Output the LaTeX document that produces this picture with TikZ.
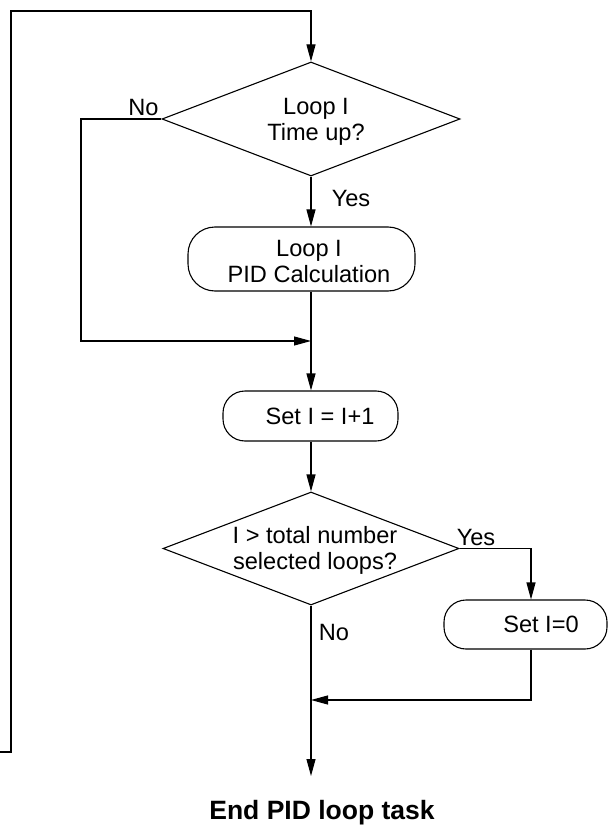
\documentclass[tikz,border=0pt]{standalone}
\usepackage{fontspec}
\setmainfont{Liberation Sans}
\usetikzlibrary{shapes.geometric,arrows.meta,calc}
\tikzset{
  ln/.style={draw=black, line width=1.1pt},
  arr/.style={ln, -{Triangle[length=17pt,width=9pt]}},
  dec/.style={ln, diamond, inner sep=0pt},
  proc/.style={ln, rectangle, rounded corners=22pt, inner sep=0pt},
  txt/.style={align=center, inner sep=0pt, font=\fontsize{23.6}{26}\selectfont},
  ttl/.style={inner sep=0pt, font=\fontsize{26.5}{30}\selectfont\bfseries}
}
\begin{document}
\begin{tikzpicture}[x=1pt,y=-1pt]
\useasboundingbox (0,0) rectangle (609,826);
% shapes
\node[dec, minimum width=298pt, minimum height=114pt] (d1) at (311,119) {};
\node[txt] (d1t) at (316,121.5) {Loop I\\Time up?};
\node[proc, rounded corners=27pt, minimum width=227pt, minimum height=64pt] (b1) at (301.5,259) {};
\node[txt] (b1t) at (309,261) {Loop I\\PID Calculation};
\node[proc, minimum width=175pt, minimum height=50pt] (b2) at (310.5,416) {};
\node[txt] (b2t) at (320,416) {Set I = I+1};
\node[dec, minimum width=296pt, minimum height=113pt] (d2) at (311,548.5) {};
\node[txt] (d2t) at (315,550) {I > total number\\selected loops?};
\node[proc, minimum width=163pt, minimum height=49pt] (b3) at (525.5,624.5) {};
\node[txt] (b3t) at (541,624.5) {Set I=0};
\node[ttl] (endt) at (322,813) {End PID loop task};
% labels
\node[txt] (no1) at (143.5,107) {No};
\node[txt] (yes1) at (351,198) {Yes};
\node[txt] (yes2) at (476,537) {Yes};
\node[txt] (no2) at (334,632) {No};
% coordinates
\coordinate (lb) at (0,752);
\coordinate (lc) at (11,752);
\coordinate (tl) at (11,11);
\coordinate (tc) at (311,11);
\coordinate (nl) at (81,341);
\coordinate (j1) at (311,341);
\coordinate (b3x) at (531,624);
\coordinate (j2) at (311,700);
\coordinate (endc) at (311,776);
% connectors
\draw[arr] (lb) -- (lc) -- (tl) -- (tc) -- (d1.north);
\draw[arr] (d1.south) -- (j1 |- b1.north);
\draw[arr] (d1.west) -| (nl) -- (j1);
\draw[arr] (j1 |- b1.south) -- (j1 |- b2.north);
\draw[arr] (j1 |- b2.south) -- (d2.north);
\draw[arr] (d2.east) -| (b3x |- b3.north);
\draw[arr] (b3x |- b3.south) |- (j2);
\draw[arr] (d2.south) -- (endc);
\end{tikzpicture}
\end{document}
